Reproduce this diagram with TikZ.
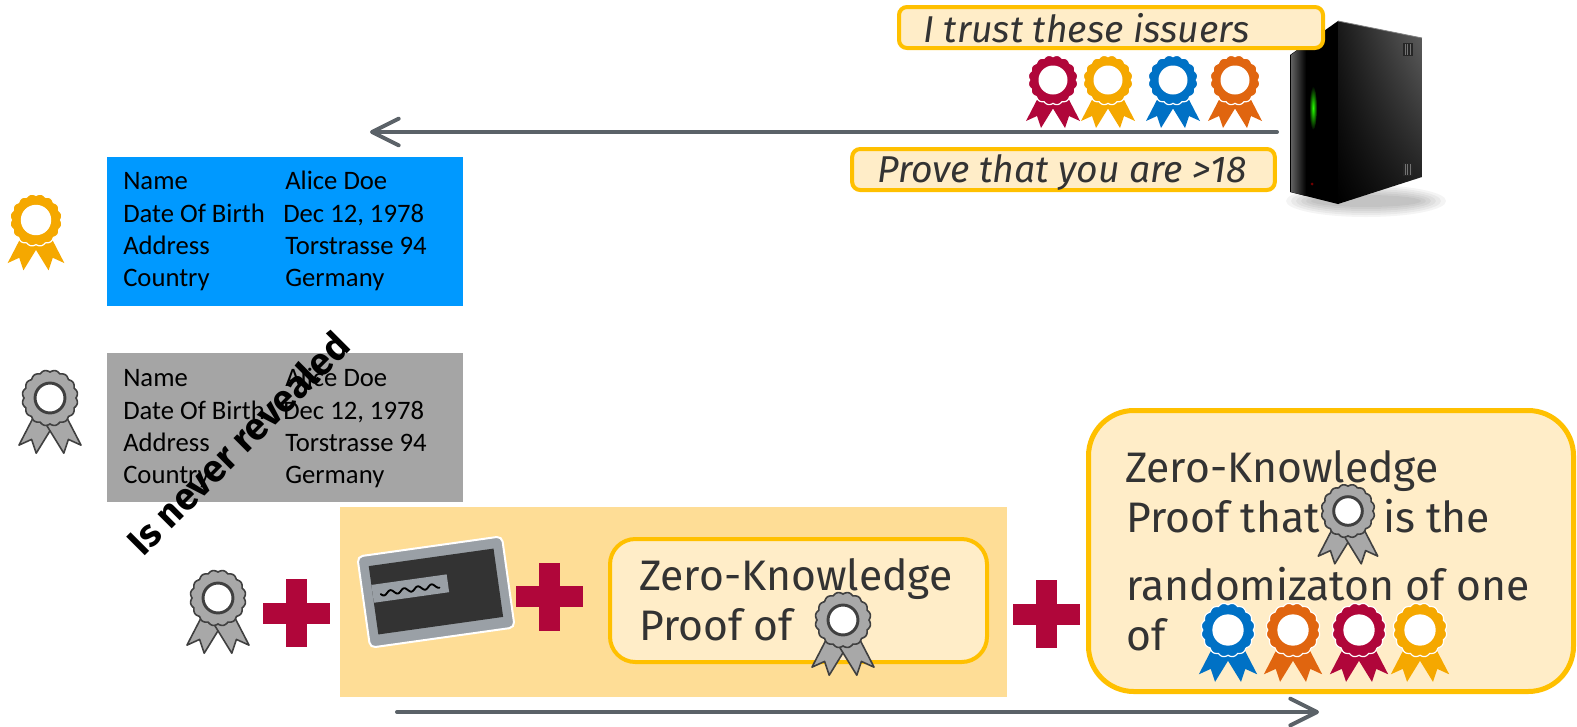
\documentclass[tikz,border=0pt]{standalone}
\usepackage{fontspec}
\setmainfont{Fira Sans}
\newfontfamily\cardfont{Carlito}
\usetikzlibrary{arrows.meta,shadings}

\definecolor{goldline}{HTML}{FFC000}
\definecolor{cream}{HTML}{FFEDC8}
\definecolor{amber}{HTML}{FEDD96}
\definecolor{crimson}{HTML}{B0063A}
\definecolor{ribyellow}{HTML}{F5A800}
\definecolor{ribblue}{HTML}{0071C5}
\definecolor{riborange}{HTML}{E0650F}
\definecolor{slate}{HTML}{5B6268}
\definecolor{cardblue}{HTML}{0099FF}
\definecolor{cardgray}{HTML}{A5A5A5}
\definecolor{inkgray}{HTML}{333333}
\definecolor{medalgray}{HTML}{A8A8A8}
\definecolor{medalline}{HTML}{404040}
\definecolor{chipgray}{HTML}{9AA0A6}

\tikzset{
  % colored issuer rosette
  pics/medal/.style={code={
    \fill[#1] (-12,12) -- (-27,41) -- (-16,36) -- (-12,48) -- (4,22) -- cycle;
    \fill[#1] (12,12) -- (27,41) -- (16,36) -- (12,48) -- (-4,22) -- cycle;
    \filldraw[fill=#1, draw=white, line width=0.9pt]
      plot[domain=0:358, samples=180, smooth cycle, variable=\t]
      (\t:{23.4+1.6*abs(sin(8*\t))});
    \fill[white] (0,0) circle (14.5);
  }},
  % grey (randomized) credential rosette
  pics/graymedal/.style={code={
    \filldraw[fill=medalgray, draw=medalline, line width=1.2pt, line join=round]
      (-12,12) -- (-27,41) -- (-16,36) -- (-12,48) -- (4,22) -- cycle;
    \filldraw[fill=medalgray, draw=medalline, line width=1.2pt, line join=round]
      (12,12) -- (27,41) -- (16,36) -- (12,48) -- (-4,22) -- cycle;
    \filldraw[fill=medalgray, draw=medalline, line width=1.2pt]
      plot[domain=0:358, samples=180, smooth cycle, variable=\t]
      (\t:{22.6+1.6*abs(sin(8*\t))});
    \filldraw[fill=white, draw=medalline, line width=2.2pt] (0,0) circle (13);
  }},
  pics/plussign/.style={code={
    \fill[crimson] (-10.5,-34) rectangle (10.5,34);
    \fill[crimson] (-33.5,-10.5) rectangle (33.5,10.5);
  }},
  callout/.style={draw=goldline, fill=cream, line width=3pt, inner sep=0pt},
  card/.style={inner sep=0pt, outer sep=0pt, minimum width=267pt, minimum height=111.75pt},
  cardtext/.style={anchor=base west, inner sep=0pt, font=\cardfont\fontsize{20}{22}\selectfont},
  zktext/.style={anchor=base west, inner sep=0pt, text=inkgray, font=\fontsize{32}{34}\selectfont},
  saytext/.style={anchor=base west, inner sep=0pt, text=inkgray, font=\itshape\fontsize{28}{30}\selectfont},
  flow/.style={draw=slate, line width=3pt, line cap=round,
    -{Straight Barb[length=20pt, width=20pt, round]}},
}

\begin{document}
\begin{tikzpicture}[x=0.75pt, y=-0.75pt]
\useasboundingbox (0,0) rectangle (1577,726);

% ---------- verifier (server) ----------
\foreach \k in {1,...,6}
  \fill[black, opacity=0.045] (1366,201) ellipse ({50+5*\k} and {4+2*\k});
\fill[black] (1290,55) -- (1338,21) -- (1338,204) -- (1290,192) -- cycle;
\shade[left color=black!62, right color=black] (1291,55) -- (1306,44) -- (1306,196) -- (1291,192) -- cycle;
\shade[upper left=black!90, upper right=black!62, lower left=black, lower right=black!90]
  (1338,21) -- (1422,38) -- (1422,177) -- (1338,204) -- cycle;
\draw[black!50, line width=0.6pt] (1338,21) -- (1422,38);
\shade[inner color=green!80!lime, outer color=black] (1313,108) ellipse (4 and 22);
\fill[black!85] (1403,43) rectangle (1413,56);
\foreach \v in {1405,1407.5,1410} \draw[black!55, line width=0.5pt] (\v,44) -- (\v,55);
\fill[black!85] (1403,163) rectangle (1413,176);
\foreach \v in {1405,1407.5,1410} \draw[black!55, line width=0.5pt] (\v,164) -- (\v,175);
\fill[red!45!black] (1312,184) circle (1.5);

% ---------- verifier request ----------
\node[callout, rounded corners=6pt, minimum width=318pt, minimum height=30.75pt] (trustbox) at (1111,27.5) {};
\node[saytext] (trust) at (923,42) {I trust these issuers};
\pic at (1053,80) {medal=crimson};
\pic at (1108,80) {medal=ribyellow};
\pic at (1173,80) {medal=ribblue};
\pic at (1235,80) {medal=riborange};

\coordinate (reqstart) at (1277,132);
\coordinate (reqend) at (370,132);
\draw[flow] (reqstart) -- (reqend);

\node[callout, rounded corners=6pt, minimum width=317pt, minimum height=30.75pt] (provebox) at (1063.5,169.5) {};
\node[saytext] (prove) at (877,182) {Prove that you are >18};

% ---------- credentials ----------
\pic[scale=1.05] at (36,220) {medal=ribyellow};
\node[card, fill=cardblue] (bluecard) at (285,231.5) {};
\node[cardtext] (b1) at (123,189) {Name};
\node[cardtext] (b2) at (285,189) {Alice Doe};
\node[cardtext] (b3) at (123,222) {Date Of Birth};
\node[cardtext] (b4) at (283,222) {Dec 12, 1978};
\node[cardtext] (b5) at (123,254) {Address};
\node[cardtext] (b6) at (285,254) {Torstrasse 94};
\node[cardtext] (b7) at (123,286) {Country};
\node[cardtext] (b8) at (285,286) {Germany};

\pic[scale=1.15] at (50,398) {graymedal};
\node[card, fill=cardgray] (graycard) at (285,427.5) {};
\node[cardtext] (g1) at (123,386) {Name};
\node[cardtext] (g2) at (285,386) {Alice Doe};
\node[cardtext] (g3) at (123,419) {Date Of Birth};
\node[cardtext] (g4) at (283,419) {Dec 12, 1978};
\node[cardtext] (g5) at (123,451) {Address};
\node[cardtext] (g6) at (285,451) {Torstrasse 94};
\node[cardtext] (g7) at (123,483) {Country};
\node[cardtext] (g8) at (285,483) {Germany};

\node[rotate=45, inner sep=0pt, font=\bfseries\fontsize{28.5}{30}\selectfont] (hidden) at (238,443) {Is never revealed};

% ---------- presentation ----------
\pic[scale=1.15] at (218,598) {graymedal};
\pic at (296,613) {plussign};

\node[fill=amber, inner sep=0pt, outer sep=0pt, minimum width=500.25pt, minimum height=142.5pt] (secretpart) at (673.5,602) {};

\begin{scope}[shift={(436,592)}, rotate=8]
  \filldraw[fill=chipgray, draw=white, line width=1.5pt, rounded corners=4pt] (-73,-46) rectangle (73,46);
  \fill[black!80] (-63,-35) rectangle (63,34);
  \fill[chipgray] (-63,-16) rectangle (13,2);
  \draw[black, line width=1.4pt, line cap=round]
    plot[domain=-55:4, samples=60, smooth, variable=\t] (\t,{-6+2.2*sin(\t*26)});
\end{scope}

\pic at (549.5,596.5) {plussign};

\node[callout, rounded corners=19pt, minimum width=282.75pt, minimum height=92.25pt] (zkone) at (798.5,600.5) {};
\node[zktext] (zk1a) at (639,590) {Zero-Knowledge};
\node[zktext] (zk1b) at (639,640) {Proof of};
\pic[scale=1.15] at (843,620) {graymedal};

\pic at (1046,614) {plussign};

\node[callout, line width=3.75pt, rounded corners=34pt, minimum width=363.75pt, minimum height=210.75pt] (zktwo) at (1331,551) {};
\node[zktext] (zk2a) at (1125,482) {Zero-Knowledge};
\node[zktext] (zk2b) at (1126,532) {Proof that};
\pic[scale=1.1] at (1348,511) {graymedal};
\node[zktext] (zk2c) at (1383,532) {is the};
\node[zktext] (zk2d) at (1126,600) {randomizaton of one};
\node[zktext] (zk2e) at (1126,650) {of};
\pic[scale=1.08] at (1228,630) {medal=ribblue};
\pic[scale=1.08] at (1293,630) {medal=riborange};
\pic[scale=1.08] at (1359,630) {medal=crimson};
\pic[scale=1.08] at (1420,630) {medal=ribyellow};

\coordinate (sendstart) at (397,712);
\coordinate (sendend) at (1319,712);
\draw[flow] (sendstart) -- (sendend);
\end{tikzpicture}
\end{document}
